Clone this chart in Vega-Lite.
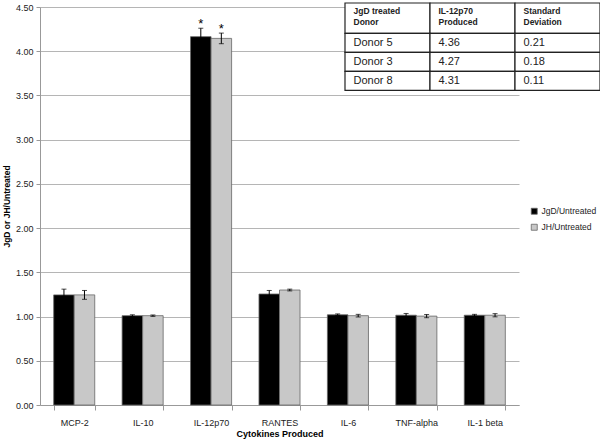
{
  "$schema": "https://vega.github.io/schema/vega-lite/v6.json",
  "width": 479,
  "height": 398,
  "autosize": {"type": "none"},
  "padding": {"left": 40, "top": 7, "right": 81, "bottom": 35},
  "background": "white",
  "config": {"font": "Liberation Sans", "view": {"stroke": null}},
  "datasets": {
    "bars": [
      {"cytokine": "MCP-2", "series": "JgD/Untreated", "value": 1.245, "err": 0.065, "star": ""},
      {"cytokine": "MCP-2", "series": "JH/Untreated", "value": 1.245, "err": 0.05, "star": ""},
      {"cytokine": "IL-10", "series": "JgD/Untreated", "value": 1.01, "err": 0.01, "star": ""},
      {"cytokine": "IL-10", "series": "JH/Untreated", "value": 1.01, "err": 0.008, "star": ""},
      {"cytokine": "IL-12p70", "series": "JgD/Untreated", "value": 4.165, "err": 0.095, "star": "*"},
      {"cytokine": "IL-12p70", "series": "JH/Untreated", "value": 4.145, "err": 0.06, "star": "*"},
      {"cytokine": "RANTES", "series": "JgD/Untreated", "value": 1.255, "err": 0.04, "star": ""},
      {"cytokine": "RANTES", "series": "JH/Untreated", "value": 1.30, "err": 0.01, "star": ""},
      {"cytokine": "IL-6", "series": "JgD/Untreated", "value": 1.02, "err": 0.01, "star": ""},
      {"cytokine": "IL-6", "series": "JH/Untreated", "value": 1.01, "err": 0.015, "star": ""},
      {"cytokine": "TNF-alpha", "series": "JgD/Untreated", "value": 1.015, "err": 0.02, "star": ""},
      {"cytokine": "TNF-alpha", "series": "JH/Untreated", "value": 1.005, "err": 0.018, "star": ""},
      {"cytokine": "IL-1 beta", "series": "JgD/Untreated", "value": 1.015, "err": 0.01, "star": ""},
      {"cytokine": "IL-1 beta", "series": "JH/Untreated", "value": 1.015, "err": 0.018, "star": ""}
    ],
    "table": [
      {"row": 0, "col": 0, "text": "JgD treated\nDonor"},
      {"row": 0, "col": 1, "text": "IL-12p70\nProduced"},
      {"row": 0, "col": 2, "text": "Standard\nDeviation"},
      {"row": 1, "col": 0, "text": "Donor 5"},
      {"row": 1, "col": 1, "text": "4.36"},
      {"row": 1, "col": 2, "text": "0.21"},
      {"row": 2, "col": 0, "text": "Donor 3"},
      {"row": 2, "col": 1, "text": "4.27"},
      {"row": 2, "col": 2, "text": "0.18"},
      {"row": 3, "col": 0, "text": "Donor 8"},
      {"row": 3, "col": 1, "text": "4.31"},
      {"row": 3, "col": 2, "text": "0.11"}
    ]
  },
  "layer": [
    {
      "data": {"name": "bars"},
      "transform": [
        {"calculate": "datum.value - datum.err", "as": "lo"},
        {"calculate": "datum.value + datum.err", "as": "hi"}
      ],
      "encoding": {
        "x": {
          "field": "cytokine", "type": "nominal",
          "sort": ["MCP-2", "IL-10", "IL-12p70", "RANTES", "IL-6", "TNF-alpha", "IL-1 beta"],
          "scale": {"paddingInner": 0.4, "paddingOuter": 0.2},
          "axis": {
            "title": "Cytokines Produced", "titleFontSize": 9, "titleFontWeight": "bold", "titlePadding": 2,
            "labelAngle": 0, "labelFontSize": 9, "labelPadding": 8, "labelColor": "#222",
            "tickBand": "extent", "tickColor": "#999", "tickSize": 5,
            "domainColor": "#999", "grid": false
          }
        },
        "xOffset": {"field": "series", "type": "nominal", "sort": ["JgD/Untreated", "JH/Untreated"]}
      },
      "layer": [
        {
          "mark": {"type": "bar", "stroke": "#666", "strokeWidth": 0.8},
          "encoding": {
            "y": {
              "field": "value", "type": "quantitative",
              "scale": {"domain": [0, 4.5], "nice": false},
              "axis": {
                "title": "JgD or JH/Untreated", "titleFontSize": 8.5, "titleFontWeight": "bold", "titlePadding": 4,
                "values": [0, 0.5, 1, 1.5, 2, 2.5, 3, 3.5, 4, 4.5], "format": ".2f",
                "labelFontSize": 9, "labelColor": "#222", "labelPadding": 3,
                "gridColor": "#b5b5b5", "domainColor": "#999", "tickColor": "#999", "tickSize": 4
              }
            },
            "color": {
              "field": "series", "type": "nominal",
              "scale": {"domain": ["JgD/Untreated", "JH/Untreated"], "range": ["#000000", "#c8c8c8"]},
              "legend": {
                "title": null, "orient": "none", "legendX": 490, "legendY": 200,
                "symbolType": "square", "symbolSize": 36, "symbolStrokeColor": "#666", "symbolStrokeWidth": 0.8,
                "labelFontSize": 8.5, "labelColor": "#222", "rowPadding": 6, "labelOffset": 3
              }
            }
          }
        },
        {
          "mark": {"type": "rule", "color": "#000", "strokeWidth": 1},
          "encoding": {"y": {"field": "lo", "type": "quantitative"}, "y2": {"field": "hi"}}
        },
        {
          "mark": {"type": "tick", "color": "#000", "size": 5, "thickness": 1},
          "encoding": {"y": {"field": "hi", "type": "quantitative"}}
        },
        {
          "mark": {"type": "tick", "color": "#000", "size": 5, "thickness": 1},
          "encoding": {"y": {"field": "lo", "type": "quantitative"}}
        },
        {
          "mark": {"type": "text", "fontSize": 13, "dy": -4, "color": "#000"},
          "encoding": {"y": {"field": "hi", "type": "quantitative"}, "text": {"field": "star"}}
        }
      ]
    },
    {
      "data": {"name": "table"},
      "transform": [
        {"calculate": "datum.col", "as": "c0"},
        {"calculate": "datum.col + 1", "as": "c1"},
        {"calculate": "datum.row == 0 ? 0 : datum.row + 0.6", "as": "r0"},
        {"calculate": "datum.row + 1.6", "as": "r1"},
        {"calculate": "(datum.r0 + datum.r1) / 2", "as": "rm"},
        {"calculate": "datum.col + 0.1", "as": "tx"}
      ],
      "layer": [
        {
          "mark": {"type": "rect", "fill": "white", "stroke": "#222", "strokeWidth": 1.2},
          "encoding": {
            "x": {"field": "c0", "type": "quantitative", "scale": {"domain": [-3.588, 2.047], "nice": false, "zero": false}, "axis": null},
            "x2": {"field": "c1"},
            "y": {"field": "r0", "type": "quantitative", "scale": {"domain": [0.21, 21.157], "nice": false, "zero": false, "reverse": true}, "axis": null},
            "y2": {"field": "r1"}
          }
        },
        {
          "transform": [{"filter": "datum.row == 0"}],
          "mark": {"type": "text", "align": "left", "baseline": "top", "dy": 4, "fontSize": 8.5, "fontWeight": "bold", "lineBreak": "\n", "lineHeight": 11, "font": "Liberation Sans", "color": "#222"},
          "encoding": {
            "x": {"field": "tx", "type": "quantitative"},
            "y": {"field": "r0", "type": "quantitative"},
            "text": {"field": "text"}
          }
        },
        {
          "transform": [{"filter": "datum.row > 0"}],
          "mark": {"type": "text", "align": "left", "baseline": "middle", "fontSize": 11, "font": "Liberation Sans", "color": "#222"},
          "encoding": {
            "x": {"field": "tx", "type": "quantitative"},
            "y": {"field": "rm", "type": "quantitative"},
            "text": {"field": "text"}
          }
        }
      ]
    }
  ],
  "resolve": {"scale": {"x": "independent", "y": "independent", "color": "independent"}}
}
